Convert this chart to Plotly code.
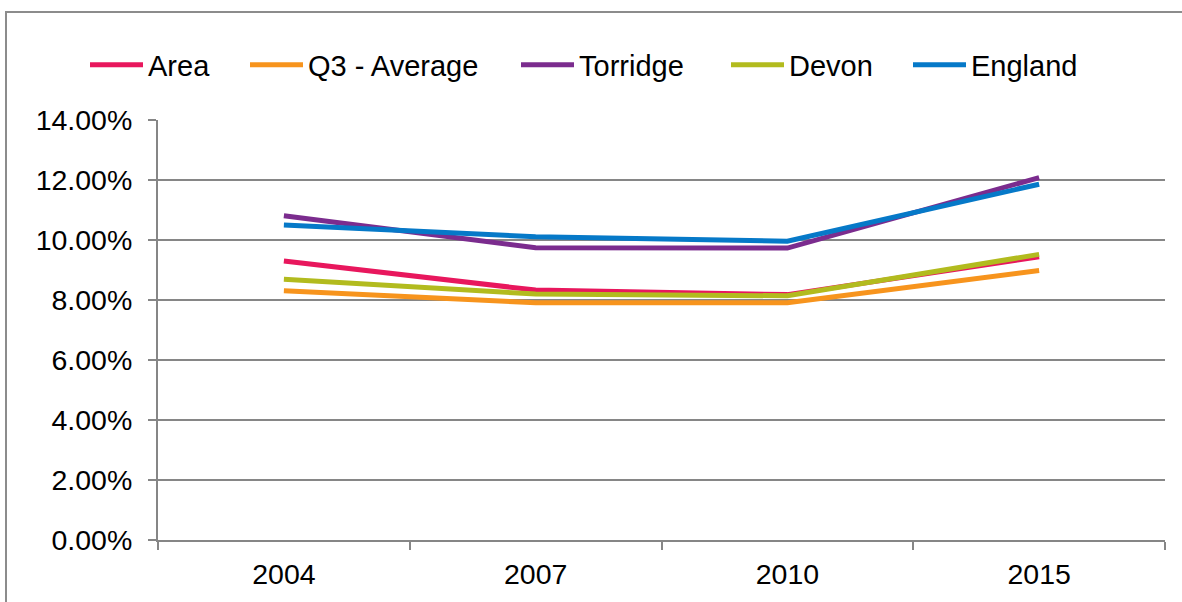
import plotly.graph_objects as go

years = ["2004", "2007", "2010", "2015"]
area = [9.30, 8.33, 8.18, 9.44]
q3_average = [8.31, 7.91, 7.91, 8.98]
torridge = [10.81, 9.74, 9.73, 12.08]
devon = [8.69, 8.20, 8.14, 9.52]
england = [10.50, 10.11, 9.96, 11.86]
y_ticks = [0, 2, 4, 6, 8, 10, 12, 14]

series = [
    ("Area", area, "#E8175D"),
    ("Q3 - Average", q3_average, "#F7941D"),
    ("Torridge", torridge, "#7B2C8E"),
    ("Devon", devon, "#B2BB1E"),
    ("England", england, "#0679C8"),
]

W, H = 1182, 602
legend_text_x = [148, 308, 579, 789, 971]  # px where legend text starts
legend_y = 65
ITEM_W = 53

fig = go.Figure()
for i, (name, vals, col) in enumerate(series):
    lg = "legend" if i == 0 else f"legend{i + 1}"
    fig.add_trace(go.Scatter(x=years, y=vals, name=name, mode="lines",
                             line=dict(color=col, width=5), legend=lg))

font_family = "Liberation Sans, Arial, sans-serif"
layout = dict(
    width=W, height=H,
    margin=dict(l=158, r=17, t=120, b=62, autoexpand=False),
    paper_bgcolor="white", plot_bgcolor="white",
    font=dict(family=font_family, size=28.5, color="black"),
    showlegend=True,
    hovermode=False,
)
for i, tx in enumerate(legend_text_x):
    key = "legend" if i == 0 else f"legend{i + 1}"
    layout[key] = dict(xref="container", yref="container",
                       x=(tx - ITEM_W - 10) / W, xanchor="left",
                       y=1 - legend_y / H, yanchor="middle",
                       font=dict(size=29), bgcolor="rgba(0,0,0,0)",
                       borderwidth=0, itemwidth=ITEM_W)
fig.update_layout(**layout)

fig.update_xaxes(type="category", range=[-0.5, 3.5], tickson="boundaries",
                 ticks="outside", ticklen=8, tickcolor="#868686", tickwidth=2,
                 showline=True, linecolor="#868686", linewidth=2,
                 showgrid=False, zeroline=False, ticklabelstandoff=8,
                 automargin=False)
fig.update_yaxes(range=[0, 14], tickmode="array", tickvals=y_ticks,
                 ticktext=[f"{v:.2f}%" for v in y_ticks],
                 ticks="outside", ticklen=8, tickcolor="#868686", tickwidth=2,
                 showline=True, linecolor="#868686", linewidth=2,
                 showgrid=True, gridcolor="#868686", gridwidth=2,
                 zeroline=False, ticklabelstandoff=10, automargin=False)
# outer chart border (left and top visible)
fig.add_shape(type="rect", xref="paper", yref="paper",
              x0=(6 - 158) / 1007, x1=1.2, y0=-0.5, y1=(540 - 12) / 420,
              line=dict(color="#8C8C8C", width=2), layer="below")

fig.write_html("out.html", config={"displayModeBar": False},
               post_script="document.body.style.margin='0px';")
